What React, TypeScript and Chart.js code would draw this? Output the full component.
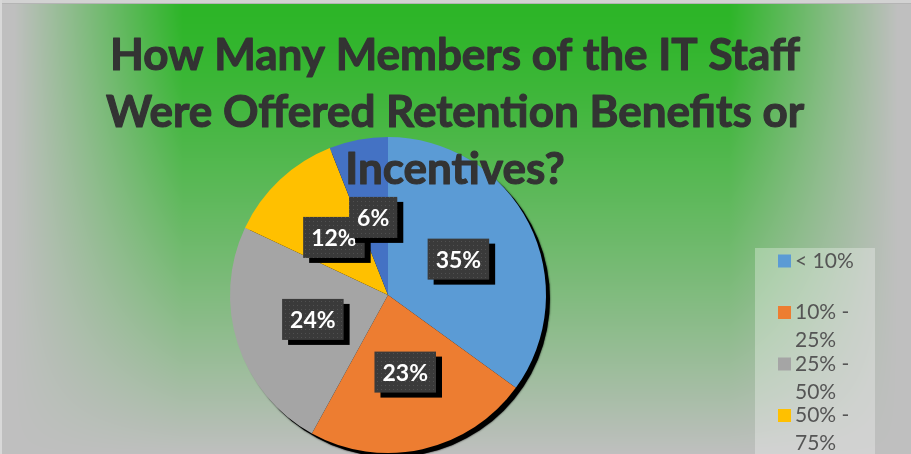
import React, { useEffect, useRef } from "react";
import { Chart, registerables } from "chart.js";

Chart.register(...registerables);

const categories = ["< 10%", "10% - 25%", "25% - 50%", "50% - 75%", "> 75%"];
const shares = [35, 23, 24, 12, 6];
const valueLabels = ["35%", "23%", "24%", "12%", "6%"];
const sliceColors = ["#5B9BD5", "#ED7D31", "#A5A5A5", "#FFC000", "#4472C4"];
const titleLines = [
  "How Many Members of the IT Staff",
  "Were Offered Retention Benefits or",
  "Incentives?",
];

const W = 911;
const H = 454;

function clamp(v: number) {
  return v < 0 ? 0 : v > 1 ? 1 : v;
}

let bgCache: HTMLCanvasElement | null = null;
function makeBg(w: number, h: number) {
  if (bgCache) return bgCache;
  const c = document.createElement("canvas");
  c.width = w;
  c.height = h;
  const ctx = c.getContext("2d")!;
  const img = ctx.createImageData(w, h);
  const g = [45, 181, 40];
  const gr = [191, 191, 191];
  for (let y = 0; y < h; y++) {
    const fy = Math.pow(clamp((y - 12) / (h - 12)), 1.25);
    for (let x = 0; x < w; x++) {
      const dx = Math.abs(x - w / 2) / (w / 2);
      const fx = clamp((dx - 0.6) / 0.37);
      const t = 1 - (1 - fx) * (1 - fy);
      const i = (y * w + x) * 4;
      img.data[i] = g[0] + (gr[0] - g[0]) * t;
      img.data[i + 1] = g[1] + (gr[1] - g[1]) * t;
      img.data[i + 2] = g[2] + (gr[2] - g[2]) * t;
      img.data[i + 3] = 255;
    }
  }
  ctx.putImageData(img, 0, 0);
  ctx.fillStyle = "#d2d2d2";
  ctx.fillRect(0, 0, w, 4);
  ctx.fillStyle = "#b4b4b4";
  ctx.fillRect(0, 3, w, 1);
  ctx.fillStyle = "#d8d8d8";
  ctx.fillRect(0, 0, 2, h);
  bgCache = c;
  return c;
}

let patternCanvas: HTMLCanvasElement | null = null;
function getPatternCanvas() {
  if (patternCanvas) return patternCanvas;
  const c = document.createElement("canvas");
  c.width = 4;
  c.height = 4;
  const p = c.getContext("2d")!;
  p.fillStyle = "#3a3a3a";
  p.fillRect(0, 0, 4, 4);
  p.fillStyle = "#505050";
  p.fillRect(1, 1, 1, 1);
  patternCanvas = c;
  return c;
}

function wrapLegend(label: string): string[] {
  const idx = label.indexOf(" - ");
  if (idx >= 0) return [label.slice(0, idx) + " -", label.slice(idx + 3)];
  return [label];
}

const backgroundPlugin = {
  id: "bgPlugin",
  beforeDraw(chart: any) {
    const ctx = chart.ctx;
    ctx.save();
    ctx.drawImage(makeBg(chart.width, chart.height), 0, 0);
    ctx.restore();
  },
  beforeDatasetsDraw(chart: any) {
    const meta = chart.getDatasetMeta(0);
    const arc = meta.data[0];
    if (!arc) return;
    const ctx = chart.ctx;
    ctx.save();
    ctx.fillStyle = "#000";
    ctx.shadowColor = "rgba(0,0,0,0.9)";
    ctx.shadowBlur = 2;
    ctx.beginPath();
    ctx.arc(arc.x + 4, arc.y + 4, arc.outerRadius, 0, Math.PI * 2);
    ctx.fill();
    ctx.restore();
  },
};

const labelsPlugin = {
  id: "boxLabels",
  afterDatasetsDraw(chart: any) {
    const ctx = chart.ctx;
    const meta = chart.getDatasetMeta(0);
    const pattern = ctx.createPattern(getPatternCanvas(), "repeat");
    ctx.save();
    ctx.font = "bold 23px Lato";
    meta.data.forEach((arc: any, i: number) => {
      const pt = arc.getCenterPoint();
      const text = valueLabels[i];
      const tw = ctx.measureText(text).width;
      const bw = tw + 16;
      const bh = 41;
      const x0 = pt.x - bw / 2;
      const y0 = pt.y - bh / 2;
      ctx.fillStyle = "#000";
      ctx.fillRect(x0 + 6, y0 + 5, bw, bh);
      ctx.fillStyle = pattern;
      ctx.fillRect(x0, y0, bw, bh);
      ctx.fillStyle = "#ffffff";
      ctx.textAlign = "center";
      ctx.textBaseline = "middle";
      ctx.fillText(text, pt.x, pt.y + 1);
    });
    ctx.restore();
  },
  afterDraw(chart: any) {
    const ctx = chart.ctx;
    ctx.save();
    // Title
    ctx.fillStyle = "#333333";
    ctx.strokeStyle = "#333333";
    ctx.lineWidth = 1.1;
    ctx.lineJoin = "round";
    ctx.textAlign = "center";
    ctx.textBaseline = "alphabetic";
    ctx.font = "bold 40px Lato";
    const w1 = ctx.measureText(titleLines[0]).width;
    const size = (40 * 690) / w1;
    ctx.font = `bold ${size.toFixed(1)}px Lato`;
    const baselines = [70, 127, 184];
    titleLines.forEach((line, i) => {
      ctx.fillText(line, 455, baselines[i]);
      ctx.strokeText(line, 455, baselines[i]);
    });

    // Legend
    ctx.fillStyle = "rgba(255,255,255,0.3)";
    ctx.fillRect(755, 248, 120, H - 248);
    ctx.font = "21px Lato";
    ctx.textAlign = "left";
    ctx.textBaseline = "middle";
    categories.forEach((cat, i) => {
      const cy = 261 + i * 51.5;
      ctx.fillStyle = sliceColors[i];
      ctx.fillRect(778, cy - 6.5, 13, 13);
      ctx.fillStyle = "#555555";
      wrapLegend(cat).forEach((ln, j) => {
        ctx.fillText(ln, 795, cy + j * 28);
      });
    });
    ctx.restore();
  },
};

export default function App() {
  const ref = useRef<HTMLCanvasElement | null>(null);
  useEffect(() => {
    document.body.style.margin = "0";
    const canvas = ref.current!;
    const chart = new Chart(canvas, {
      type: "pie",
      data: {
        labels: categories,
        datasets: [
          {
            data: shares,
            backgroundColor: sliceColors,
            borderWidth: 0,
          },
        ],
      },
      options: {
        responsive: false,
        animation: false,
        devicePixelRatio: 1,
        layout: { padding: { left: 230, right: 365, top: 137, bottom: 1 } },
        plugins: {
          legend: { display: false },
          title: { display: false },
          tooltip: { enabled: false },
        },
      },
      plugins: [backgroundPlugin, labelsPlugin],
    });
    let alive = true;
    if ((document as any).fonts && (document as any).fonts.load) {
      Promise.all([
        (document as any).fonts.load("bold 40px Lato"),
        (document as any).fonts.load("21px Lato"),
      ]).then(() => {
        if (alive) chart.update();
      });
    }
    return () => {
      alive = false;
      chart.destroy();
    };
  }, []);
  return <canvas ref={ref} width={W} height={H} style={{ display: "block", width: W, height: H }} />;
}
